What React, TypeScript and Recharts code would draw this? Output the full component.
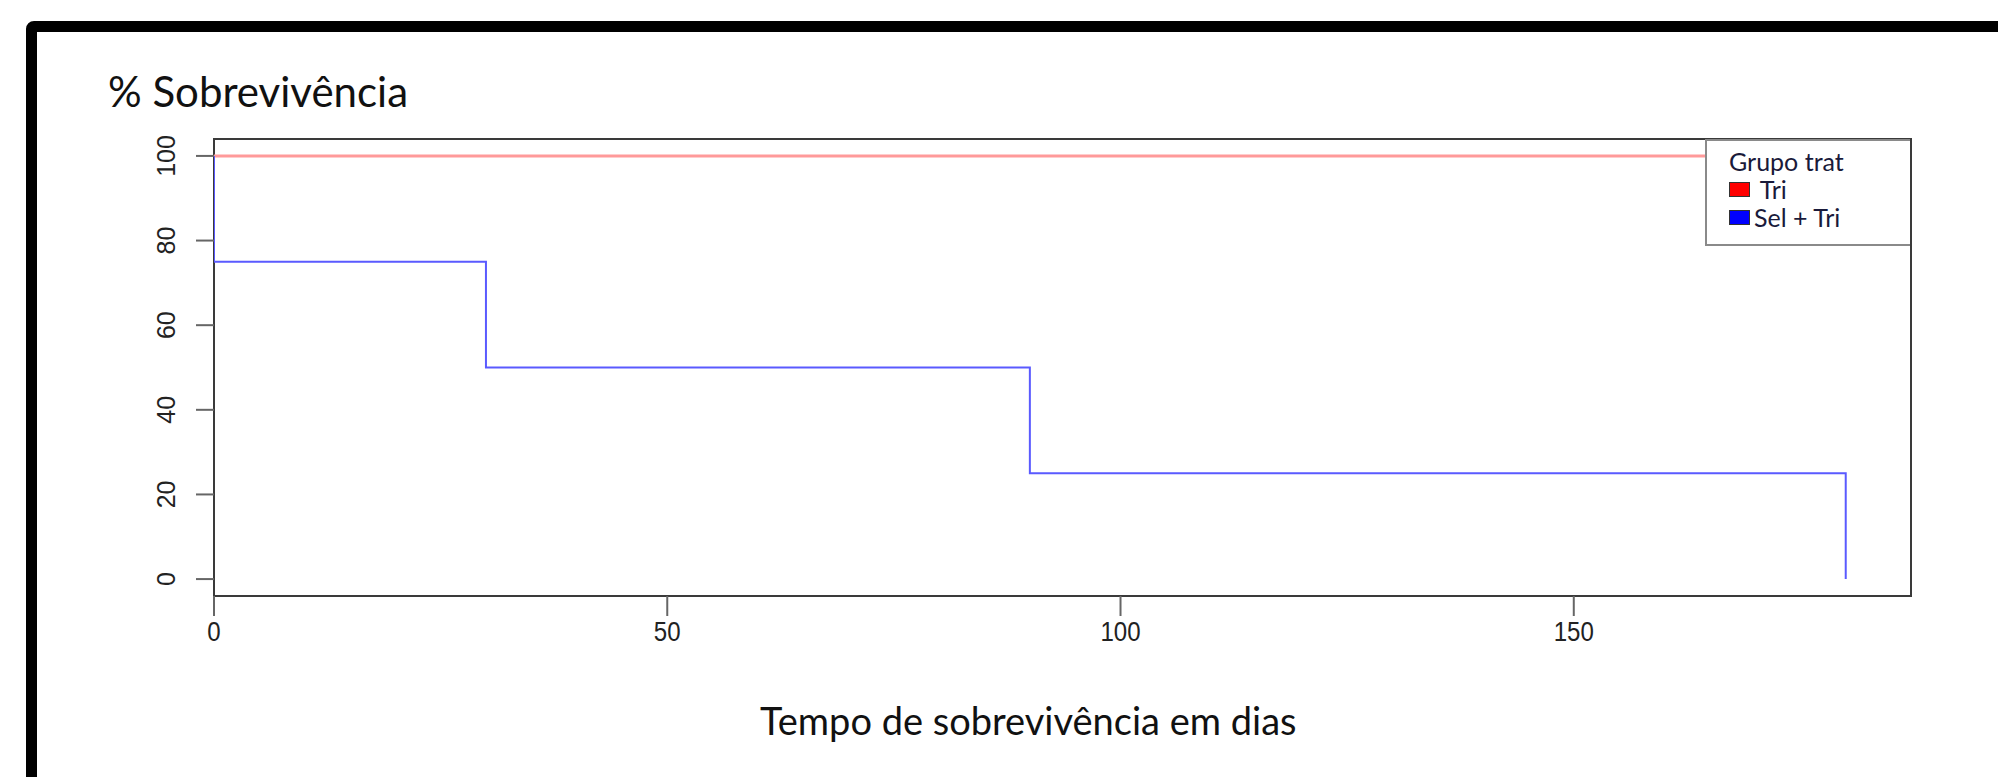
import React from 'react';
import { LineChart, Line, XAxis, YAxis, ReferenceArea } from 'recharts';

const blueTimes = [0, 0, 30, 90, 180];
const blueSurv = [100, 75, 50, 25, 0];
const redTimes = [0, 180];
const redSurv = [100, 100];
const xTicks = [0, 50, 100, 150];
const yTicks = [0, 20, 40, 60, 80, 100];
const groups = [
  { name: ' Tri', color: '#ff0000' },
  { name: 'Sel + Tri', color: '#0000ff' },
];

const blueData = blueTimes.map((t, i) => ({ t, s: blueSurv[i] }));
const redData = redTimes.map((t, i) => ({ t, s: redSurv[i] }));

const tickFont = '"Liberation Sans", Arial, sans-serif';
const textFont = 'Lato, "Open Sans", sans-serif';

const YTick = (props: any) => {
  const { x, y, payload } = props;
  return (
    <text
      x={x}
      y={y}
      transform={`rotate(-90 ${x} ${y})`}
      textAnchor="middle"
      fontFamily={tickFont}
      fontSize={25}
      fill="#222"
    >
      {payload.value}
    </text>
  );
};

const XTick = (props: any) => {
  const { x, y, payload } = props;
  return (
    <text
      x={x}
      y={y}
      textAnchor="middle"
      fontFamily={tickFont}
      fontSize={28}
      fill="#222"
      transform={`translate(${x} 0) scale(0.86 1) translate(${-x} 0)`}
    >
      {payload.value}
    </text>
  );
};

// legend drawn over the chart, top right inside the plot box
const LegendBox = () => (
  <div
    style={{
      position: 'absolute',
      left: 1705,
      top: 139,
      width: 205,
      height: 107,
      background: '#fff',
      borderLeft: '2px solid #8a8a8a',
      borderBottom: '2px solid #8a8a8a',
      borderTop: '2px solid #8a8a8a',
      boxSizing: 'border-box',
      fontFamily: textFont,
      fontSize: 25,
      color: '#1a1a3a',
      paddingLeft: 22,
      paddingTop: 6,
      lineHeight: '28px',
    }}
  >
    <div>Grupo trat</div>
    {groups.map((g) => (
      <div key={g.name} style={{ display: 'flex', alignItems: 'center', whiteSpace: 'pre' }}>
        <span
          style={{
            display: 'inline-block',
            width: 19,
            height: 13,
            background: g.color,
            border: '1.5px solid #333',
            marginRight: 4,
          }}
        />
        {g.name}
      </div>
    ))}
  </div>
);

const App: React.FC = () => {
  return (
    <div style={{ position: 'absolute', left: 0, top: 0, width: 1998, height: 777, overflow: 'hidden', background: '#fff' }}>
      <div
        style={{
          position: 'absolute',
          left: 26,
          top: 21,
          width: 2100,
          height: 900,
          border: '11px solid #000',
          borderRadius: 8,
        }}
      />
      <div
        style={{
          position: 'absolute',
          left: 108,
          top: 70,
          fontFamily: textFont,
          fontSize: 42,
          color: '#111',
          lineHeight: 1,
        }}
      >
        % Sobrevivência
      </div>
      <div
        style={{
          position: 'absolute',
          left: 760,
          top: 701,
          fontFamily: textFont,
          fontSize: 38,
          color: '#111',
          lineHeight: 1,
          whiteSpace: 'nowrap',
        }}
      >
        Tempo de sobrevivência em dias
      </div>
      <div style={{ position: 'absolute', left: 0, top: 0 }}>
        <LineChart width={1998} height={777} margin={{ top: 139, right: 87, bottom: 0, left: 154 }}>
          <XAxis
            type="number"
            dataKey="t"
            domain={[0, 187.2]}
            ticks={xTicks}
            allowDataOverflow
            height={181}
            tickSize={20}
            tickMargin={25}
            tick={<XTick />}
            axisLine={false}
            tickLine={{ stroke: '#666', strokeWidth: 2 }}
          />
          <YAxis
            type="number"
            dataKey="s"
            domain={[-4, 104]}
            ticks={yTicks}
            allowDataOverflow
            width={60}
            tickSize={18}
            tickMargin={21}
            tick={<YTick />}
            axisLine={false}
            tickLine={{ stroke: '#666', strokeWidth: 2 }}
          />
          <ReferenceArea
            x1={0}
            x2={187.2}
            y1={-4}
            y2={104}
            fill="none"
            stroke="#3a3a3a"
            strokeWidth={2}
          />
          <Line
            data={redData}
            dataKey="s"
            type="linear"
            stroke="#ff9a9a"
            strokeWidth={3}
            dot={false}
            isAnimationActive={false}
          />
          <Line
            data={blueData}
            dataKey="s"
            type="stepAfter"
            stroke="#5a5aff"
            strokeWidth={2}
            dot={false}
            isAnimationActive={false}
          />
        </LineChart>
      </div>
      <LegendBox />
    </div>
  );
};

export default App;
